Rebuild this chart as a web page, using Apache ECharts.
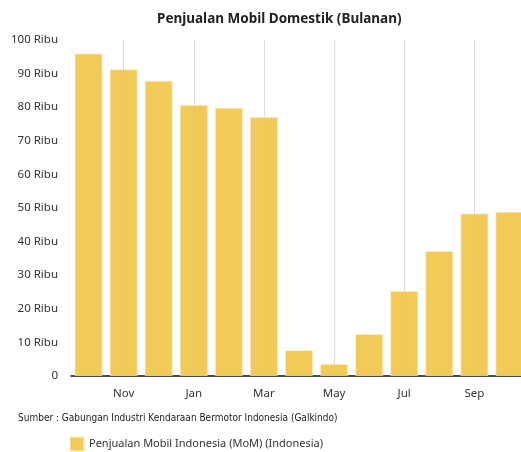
<!DOCTYPE html>
<html>
<head>
<meta charset="utf-8">
<script src="https://cdn.jsdelivr.net/npm/echarts@6/dist/echarts.min.js"></script>
<style>
  html, body { margin: 0; padding: 0; background: #fff; overflow: hidden; }
  #chart { width: 528px; height: 452px; }
</style>
</head>
<body>
<div id="chart"></div>
<script>
// data
var months = ['Oct', 'Nov', 'Dec', 'Jan', 'Feb', 'Mar', 'Apr', 'May', 'Jun', 'Jul', 'Aug', 'Sep', 'Oct '];
var sales = [96.0, 91.3, 87.9, 80.7, 79.8, 77.1, 7.7, 3.6, 12.5, 25.3, 37.2, 48.4, 48.9];
var seriesName = 'Penjualan Mobil Indonesia (MoM) (Indonesia)';
var titleText = 'Penjualan Mobil Domestik (Bulanan)';
var sourceText = 'Sumber : Gabungan Industri Kendaraan Bermotor Indonesia (Galkindo)';

var oddOnly = function (i) { return i % 2 === 1; };

var option = {
    animation: false,
    title: [{
        text: titleText,
        left: 152,
        top: 7,
        textStyle: { fontFamily: 'Noto Sans', fontSize: 13.5, fontWeight: 'bold', color: '#222' }
    }, {
        text: sourceText,
        left: 13,
        top: 408,
        textStyle: { fontFamily: 'DejaVu Sans Condensed', fontSize: 10, fontWeight: 'normal', color: '#222' }
    }],
    legend: {
        data: [seriesName],
        icon: 'rect',
        left: 64,
        top: 431,
        itemWidth: 14,
        itemHeight: 14,
        itemGap: 5,
        textStyle: { fontFamily: 'Noto Sans', fontSize: 11, color: '#333' }
    },
    grid: { left: 71, right: 1, top: 40, bottom: 76, containLabel: false },
    xAxis: {
        type: 'category',
        data: months,
        axisLine: { lineStyle: { color: '#111', width: 1.5 } },
        axisTick: { alignWithLabel: true, interval: oddOnly, length: 5, lineStyle: { color: '#888' } },
        axisLabel: { interval: oddOnly, margin: 12, fontFamily: 'Noto Sans', fontSize: 11.5, color: '#333' },
        splitLine: { show: true, alignWithLabel: true, interval: oddOnly, lineStyle: { color: '#dcdcdc', width: 1 } }
    },
    yAxis: {
        type: 'value',
        min: 0,
        max: 100,
        interval: 10,
        axisLine: { show: false },
        axisTick: { show: false },
        splitLine: { show: false },
        axisLabel: {
            margin: 13,
            fontFamily: 'Noto Sans',
            fontSize: 11.5,
            color: '#333',
            formatter: function (v) { return v === 0 ? '0' : v + ' Ribu'; }
        }
    },
    series: [{
        name: seriesName,
        type: 'bar',
        data: sales,
        barCategoryGap: '20%',
        itemStyle: { color: 'rgba(240,198,75,0.92)', borderColor: 'rgba(255,240,200,0.6)', borderWidth: 1 }
    }]
};

var myChart = echarts.init(document.getElementById('chart'));
myChart.setOption(option);
</script>
</body>
</html>
